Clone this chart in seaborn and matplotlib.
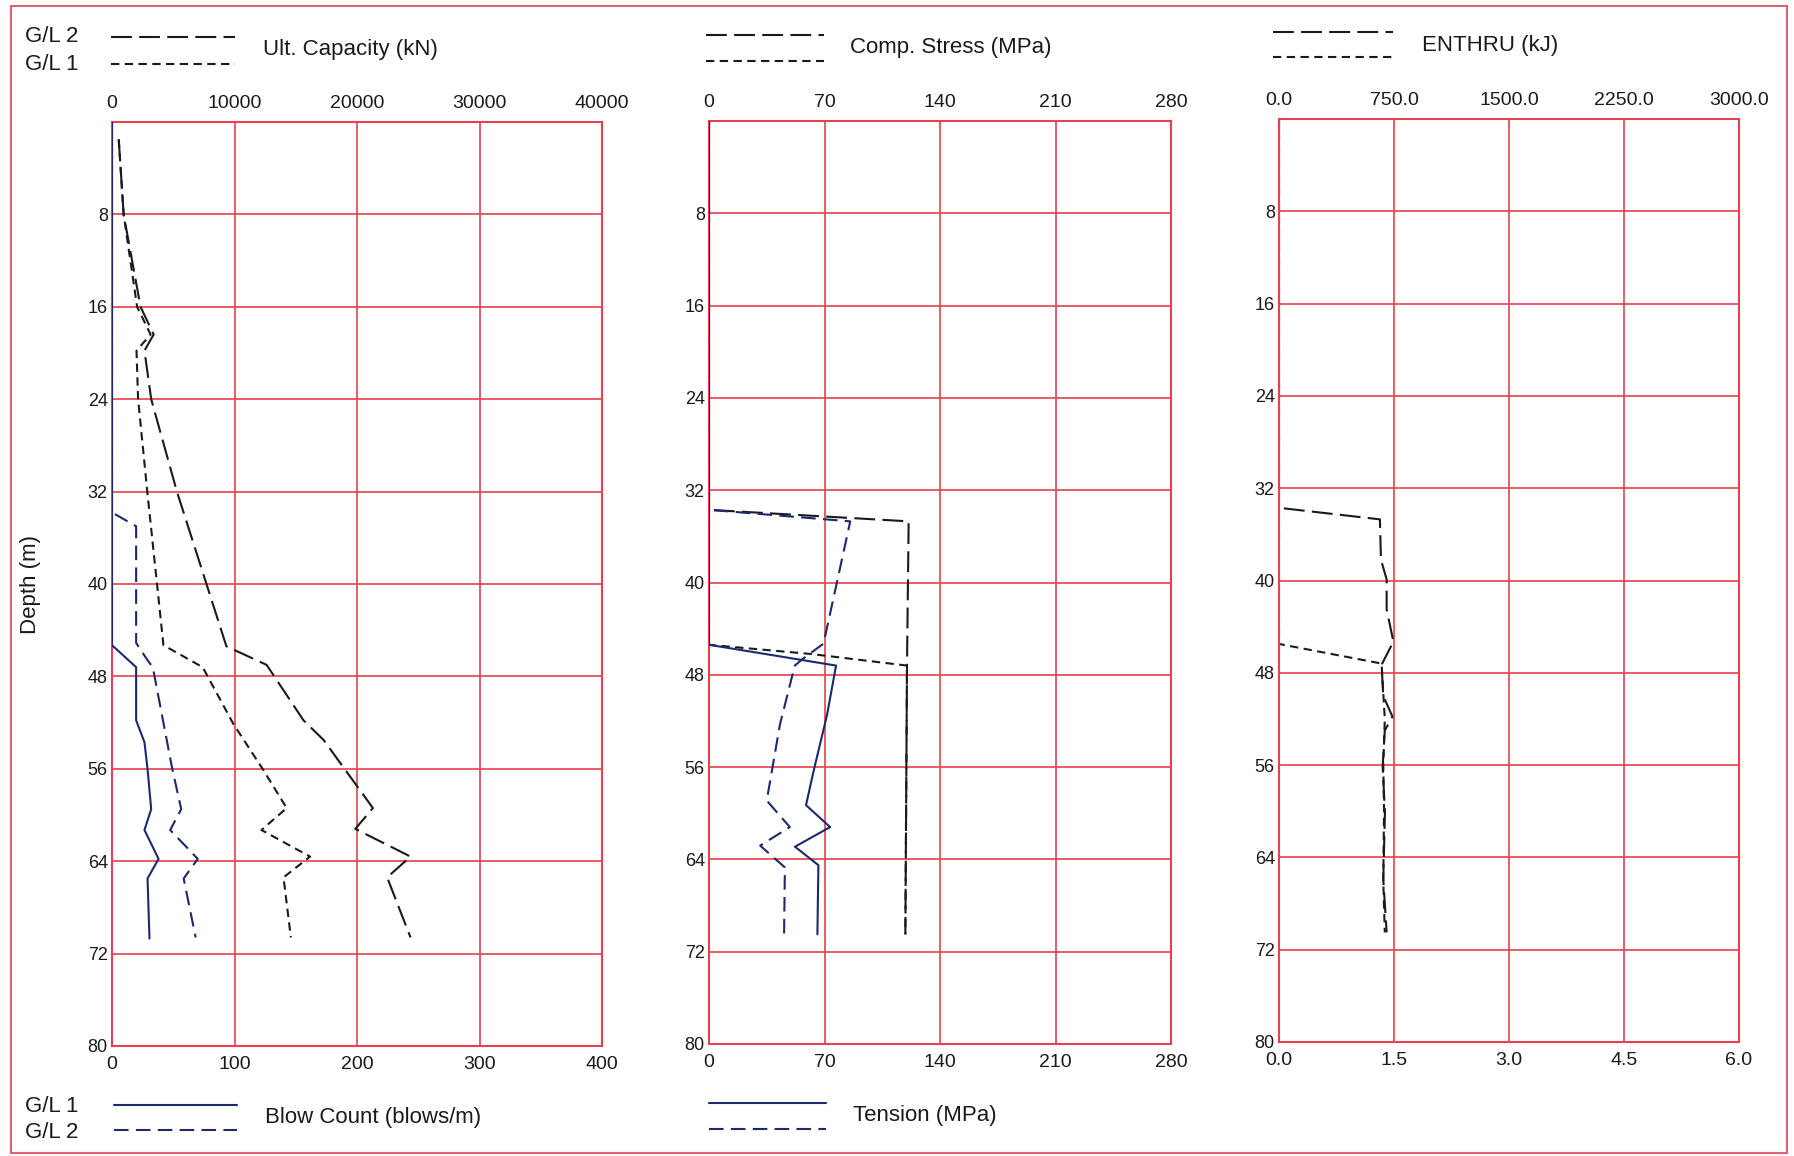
import numpy as np
import matplotlib
matplotlib.use("Agg")
import matplotlib.pyplot as plt
from matplotlib.lines import Line2D
from matplotlib.patches import Rectangle
import seaborn as sns

W, H = 1794, 1156

# ---- values (depth in m) ----
# Ult. Capacity (kN)
cap_gl1_depth = [1.5, 8, 16, 18.4, 19.8, 24, 32, 45.3, 47.2, 52.1, 56.1, 59.4, 61.3, 63.6, 65.4, 70.6]
cap_gl1 = [550, 950, 2050, 3150, 2000, 2130, 2880, 4200, 7400, 9900, 12350, 14260, 12200, 16170, 14000, 14600]
cap_gl2_depth = [1.5, 8, 16, 18.4, 19.8, 24, 32, 45.4, 47.0, 51.8, 53.5, 59.4, 61.2, 63.6, 65.4, 70.6]
cap_gl2 = [550, 950, 2330, 3400, 2650, 3200, 5300, 9340, 12620, 15630, 17270, 21300, 19860, 24370, 22460, 24370]

# Blow Count (blows/m)
bc_gl1_depth = [0, 45.3, 47.2, 51.8, 53.7, 56.0, 59.5, 61.3, 63.8, 65.5, 70.7]
bc_gl1 = [0, 0, 19.7, 19.7, 26.5, 29, 32, 26.5, 38, 29, 30.6]
bc_gl2_depth = [0, 33.8, 35.0, 45.1, 46.6, 47.2, 55.9, 59.5, 61.3, 63.8, 65.5, 70.6]
bc_gl2 = [0, 0, 19.7, 19.7, 29, 33.3, 49, 56.5, 47.5, 70, 58.5, 68.3]

# Comp. Stress (MPa)
cs_gl2_depth = [0, 33.7, 34.7, 47.2, 70.5]
cs_gl2 = [0, 0, 121, 120, 119]
cs_gl1_depth = [0, 45.4, 46.2, 47.2, 70.5]
cs_gl1 = [0, 0, 62, 120, 119]

# Tension (MPa)
ten_gl1_depth = [0, 45.4, 47.2, 51.5, 56.4, 59.3, 61.2, 62.9, 64.5, 70.5]
ten_gl1 = [0, 0, 77, 71.5, 63.3, 58.8, 73.4, 52.1, 66.3, 65.7]
ten_gl2_depth = [0, 33.7, 34.7, 45.3, 46.6, 47.2, 52.3, 58.9, 61.2, 62.8, 64.7, 70.5]
ten_gl2 = [0, 0, 85.6, 69.4, 57, 52, 43, 35, 49, 31, 46, 45.5]

# ENTHRU (kJ)
en_gl2_depth = [0, 33.7, 34.7, 38.2, 39.9, 42.5, 45.3, 47.3, 50.0, 51.8, 53.0, 56.1, 60.1, 65.9, 70.5]
en_gl2 = [0, 0, 658, 665, 702, 702, 746, 669, 680, 740, 690, 676, 691, 680, 702]
en_gl1_depth = [0, 45.5, 47.2, 52.0, 56.0, 60.0, 66.0, 70.5]
en_gl1 = [0, 0, 669, 690, 680, 685, 680, 690]

depth_ticks = [8, 16, 24, 32, 40, 48, 56, 64, 72, 80]

cap_ticks = [0, 10000, 20000, 30000, 40000]
bc_ticks = [0, 100, 200, 300, 400]
stress_ticks = [0, 70, 140, 210, 280]
en_ticks = [0, 750, 1500, 2250, 3000]
en_labels = ["0.0", "750.0", "1500.0", "2250.0", "3000.0"]
stroke_ticks = [0, 1.5, 3.0, 4.5, 6.0]
stroke_labels = ["0.0", "1.5", "3.0", "4.5", "6.0"]

# ---- styling ----
sns.set_theme(style="white")
plt.rcParams["font.family"] = ["Liberation Sans", "DejaVu Sans"]

RED = "#e8404f"
NAVY = "#1c2a6b"
BLACK = "#1a1a1a"
LONG = (0, (10, 3.5))
SHORT = (0, (4, 2.6))
MED = (0, (7, 3.5))
LW = 1.5


def px_rect(l, t, r, b):
    return [l / W, 1 - b / H, (r - l) / W, (b - t) / H]


def fx(x):
    return x / W


def fy(y):
    return 1 - y / H


def draw(ax, depth, vals, color, ls):
    sns.lineplot(x=np.array(vals, float), y=np.array(depth, float), sort=False,
                 estimator=None, orient="y", color=color, linestyle=ls,
                 linewidth=LW, ax=ax)
    ax.set_xlabel("")
    ax.set_ylabel("")


def setup(ax, xmax, top_ticks, top_labels, bot_ticks, bot_labels, bot_max):
    ax.set_xlim(0, xmax)
    ax.set_ylim(80, 0)
    ax.set_xticks(top_ticks)
    ax.set_xticklabels(top_labels)
    ax.set_yticks(depth_ticks)
    ax.set_yticklabels([str(t) for t in depth_ticks])
    ax.grid(True, color=RED, linewidth=1.2)
    for s in ax.spines.values():
        s.set_color(RED)
        s.set_linewidth(1.5)
    ax2 = ax.twiny()
    ax2.set_xlim(0, bot_max)
    ax2.set_xticks(bot_ticks)
    ax2.set_xticklabels(bot_labels)
    for s in ax2.spines.values():
        s.set_visible(False)
    ax2.grid(False)
    # twiny flips the tick sides, so set them explicitly afterwards
    ax.tick_params(axis="x", top=True, labeltop=True, bottom=False, labelbottom=False,
                   length=0, pad=7, labelsize=14, colors=BLACK)
    ax2.tick_params(axis="x", top=False, labeltop=False, bottom=True, labelbottom=True,
                    length=0, pad=7, labelsize=14, colors=BLACK)
    ax.tick_params(axis="y", length=0, pad=3, labelsize=13, colors=BLACK)
    return ax2


fig = plt.figure(figsize=(W / 100, H / 100), dpi=100)

# panel 1: capacity / blow count
ax1 = fig.add_axes(px_rect(112, 122, 602, 1046))
ax1b = setup(ax1, 40000, cap_ticks, [str(t) for t in cap_ticks],
             bc_ticks, [str(t) for t in bc_ticks], 400)
draw(ax1, cap_gl1_depth, cap_gl1, BLACK, SHORT)
draw(ax1, cap_gl2_depth, cap_gl2, BLACK, LONG)
draw(ax1b, bc_gl1_depth, bc_gl1, NAVY, "-")
draw(ax1b, bc_gl2_depth, bc_gl2, NAVY, MED)
ax1b.set_ylim(80, 0)
ax1.set_ylabel("Depth (m)", fontsize=16, color=BLACK)
ax1.yaxis.set_label_coords(-0.145, 0.5)

# panel 2: comp stress / tension
ax2 = fig.add_axes(px_rect(709, 121, 1171, 1044))
ax2b = setup(ax2, 280, stress_ticks, [str(t) for t in stress_ticks],
             stress_ticks, [str(t) for t in stress_ticks], 280)
draw(ax2, cs_gl2_depth, cs_gl2, BLACK, LONG)
draw(ax2, cs_gl1_depth, cs_gl1, BLACK, SHORT)
draw(ax2b, ten_gl1_depth, ten_gl1, NAVY, "-")
draw(ax2b, ten_gl2_depth, ten_gl2, NAVY, MED)
ax2b.set_ylim(80, 0)

# panel 3: enthru / stroke
ax3 = fig.add_axes(px_rect(1279, 119, 1739, 1042))
ax3b = setup(ax3, 3000, en_ticks, en_labels, stroke_ticks, stroke_labels, 6.0)
draw(ax3, en_gl2_depth, en_gl2, BLACK, LONG)
draw(ax3, en_gl1_depth, en_gl1, BLACK, SHORT)
ax3b.set_ylim(80, 0)


# ---- hand-drawn style legends ----
def sample(x0, x1, y, color, ls):
    fig.add_artist(Line2D([fx(x0), fx(x1)], [fy(y), fy(y)], transform=fig.transFigure,
                          color=color, linestyle=ls, linewidth=LW))


def label(x, y, s, size=16):
    fig.text(fx(x), fy(y), s, fontsize=size, color=BLACK, ha="left", va="center")


label(25, 37, "G/L 2")
label(25, 64, "G/L 1")
sample(111, 235, 37, BLACK, LONG)
sample(111, 235, 64, BLACK, SHORT)
label(263, 50, "Ult. Capacity (kN)")

sample(706, 824, 35, BLACK, LONG)
sample(706, 824, 61, BLACK, SHORT)
label(850, 48, "Comp. Stress (MPa)")

sample(1273, 1393, 32, BLACK, LONG)
sample(1273, 1393, 57, BLACK, SHORT)
label(1422, 46, "ENTHRU (kJ)")

label(25, 1106, "G/L 1")
label(25, 1133, "G/L 2")
sample(114, 237, 1105, NAVY, "-")
sample(114, 237, 1130, NAVY, MED)
label(265, 1118, "Blow Count (blows/m)")

sample(709, 826, 1103, NAVY, "-")
sample(709, 826, 1129, NAVY, MED)
label(853, 1116, "Tension (MPa)")

# page border
fig.add_artist(Rectangle((fx(11), fy(1153)), fx(1787) - fx(11), fy(6) - fy(1153),
                         transform=fig.transFigure, fill=False, edgecolor="#e06070",
                         linewidth=1.5))

fig.savefig("out.png", dpi=100)
plt.close()
